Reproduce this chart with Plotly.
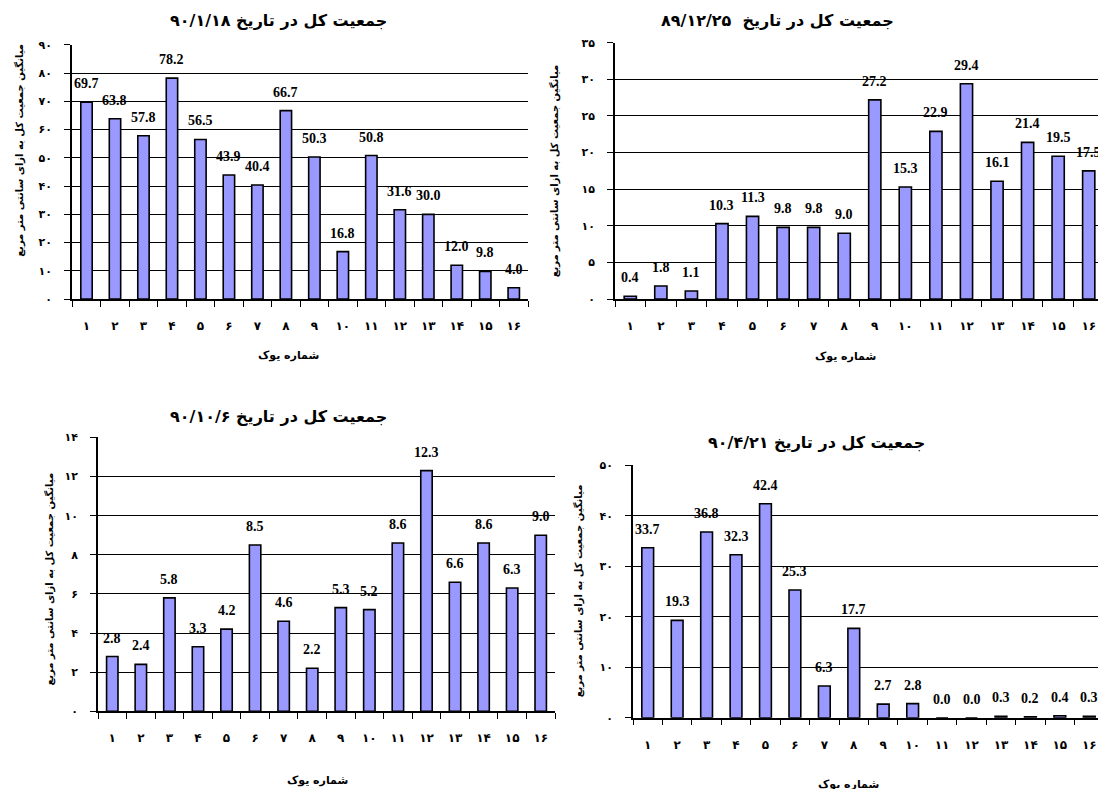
import plotly.graph_objects as go

W, H = 1106, 789

# ---- data ----
wells = ["۱", "۲", "۳", "۴", "۵", "۶", "۷", "۸", "۹", "۱۰", "۱۱", "۱۲", "۱۳", "۱۴", "۱۵", "۱۶"]

title_1 = "جمعیت کل در تاریخ ۹۰/۱/۱۸"
values_1 = [69.7, 63.8, 57.8, 78.2, 56.5, 43.9, 40.4, 66.7, 50.3, 16.8, 50.8, 31.6, 30.0, 12.0, 9.8, 4.0]
yticks_1 = [0, 10, 20, 30, 40, 50, 60, 70, 80, 90]
yticktext_1 = ["۰", "۱۰", "۲۰", "۳۰", "۴۰", "۵۰", "۶۰", "۷۰", "۸۰", "۹۰"]

title_2 = "جمعیت کل در تاریخ  ۸۹/۱۲/۲۵"
values_2 = [0.4, 1.8, 1.1, 10.3, 11.3, 9.8, 9.8, 9.0, 27.2, 15.3, 22.9, 29.4, 16.1, 21.4, 19.5, 17.5]
yticks_2 = [0, 5, 10, 15, 20, 25, 30, 35]
yticktext_2 = ["۰", "۵", "۱۰", "۱۵", "۲۰", "۲۵", "۳۰", "۳۵"]

title_3 = "جمعیت کل در تاریخ ۹۰/۱۰/۶"
values_3 = [2.8, 2.4, 5.8, 3.3, 4.2, 8.5, 4.6, 2.2, 5.3, 5.2, 8.6, 12.3, 6.6, 8.6, 6.3, 9.0]
yticks_3 = [0, 2, 4, 6, 8, 10, 12, 14]
yticktext_3 = ["۰", "۲", "۴", "۶", "۸", "۱۰", "۱۲", "۱۴"]

title_4 = "جمعیت کل در تاریخ ۹۰/۴/۲۱"
values_4 = [33.7, 19.3, 36.8, 32.3, 42.4, 25.3, 6.3, 17.7, 2.7, 2.8, 0.0, 0.0, 0.3, 0.2, 0.4, 0.3]
yticks_4 = [0, 10, 20, 30, 40, 50]
yticktext_4 = ["۰", "۱۰", "۲۰", "۳۰", "۴۰", "۵۰"]

x_title = "شماره یوک"
y_title = "میانگین جمعیت کل به ازای سانتی متر مربع"

# ---- layout geometry (pixels, compensated for page offset) ----
panels = [
    dict(title=title_1, vals=values_1, tv=yticks_1, tt=yticktext_1,
         x0=64, x1=520, ytop=31.3, ybot=289.9, tx=270, ty=6.8, xtx=280, xty=347, ytx=12, yty=139),
    dict(title=title_2, vals=values_2, tv=yticks_2, tt=yticktext_2,
         x0=607, x1=1096, ytop=29.2, ybot=289.9, tx=769, ty=6.8, xtx=837, xty=348, ytx=546, yty=160),
    dict(title=title_3, vals=values_3, tv=yticks_3, tt=yticktext_3,
         x0=90, x1=547, ytop=430.5, ybot=709, tx=270, ty=409, xtx=309, xty=779.5, ytx=42, yty=575),
    dict(title=title_4, vals=values_4, tv=yticks_4, tt=yticktext_4,
         x0=625, x1=1096, ytop=459, ybot=715.5, tx=808, ty=435.5, xtx=840, xty=783.5, ytx=570, yty=587),
]

persian_font = "DejaVu Sans"
label_font = "Liberation Serif, Times New Roman, serif"

fig = go.Figure()
annotations = []
for i, p in enumerate(panels, start=1):
    sfx = "" if i == 1 else str(i)
    fig.add_trace(go.Bar(
        x=wells, y=p["vals"], xaxis="x" + sfx, yaxis="y" + sfx,
        marker=dict(color="#9999FF", line=dict(color="black", width=1.6)),
        width=0.4, showlegend=False, hoverinfo="x+y",
    ))
    for w, v in zip(wells, p["vals"]):
        annotations.append(dict(text=f"{v:.1f}", x=w, y=v, xref="x" + sfx, yref="y" + sfx,
                                showarrow=False, xanchor="center", yanchor="bottom", yshift=9,
                                font=dict(family=label_font, size=14, color="black", weight="bold")))
    fig.update_layout(**{
        "xaxis" + sfx: dict(
            domain=[p["x0"] / W, p["x1"] / W], anchor="y" + sfx,
            type="category", showgrid=False, showline=True, linecolor="black", linewidth=1.5,
            ticks="outside", tickson="boundaries", ticklen=6, tickcolor="black",
            tickfont=dict(family=persian_font, size=12, color="black", weight="bold"),
            ticklabelstandoff=15, fixedrange=True,
        ),
        "yaxis" + sfx: dict(
            domain=[1 - p["ybot"] / H, 1 - p["ytop"] / H], anchor="x" + sfx,
            range=[0, p["tv"][-1]], tickvals=p["tv"], ticktext=p["tt"],
            showgrid=True, gridcolor="black", gridwidth=1,
            showline=True, linecolor="black", linewidth=1.5,
            ticks="outside", ticklen=6, tickcolor="black", zeroline=False,
            tickfont=dict(family=persian_font, size=11, color="black", weight="bold"),
            ticklabelstandoff=10, fixedrange=True,
        ),
    })
    annotations.append(dict(text=p["title"], x=p["tx"] / W, y=1 - p["ty"] / H, xref="paper", yref="paper",
                            showarrow=False, xanchor="center", yanchor="middle",
                            font=dict(family=persian_font, size=16, color="black", weight="bold")))
    annotations.append(dict(text=x_title, x=p["xtx"] / W, y=1 - p["xty"] / H, xref="paper", yref="paper",
                            showarrow=False, xanchor="center", yanchor="middle",
                            font=dict(family=persian_font, size=11, color="black", weight="bold")))
    annotations.append(dict(text=y_title, x=p["ytx"] / W, y=1 - p["yty"] / H, xref="paper", yref="paper",
                            showarrow=False, xanchor="center", yanchor="middle", textangle=-90,
                            font=dict(family=persian_font, size=10, color="black", weight="bold")))

fig.update_layout(
    width=W, height=H, margin=dict(l=0, r=0, t=0, b=0),
    paper_bgcolor="white", plot_bgcolor="white",
    annotations=annotations, bargap=0.5,
)

fig.write_html("out.html")
